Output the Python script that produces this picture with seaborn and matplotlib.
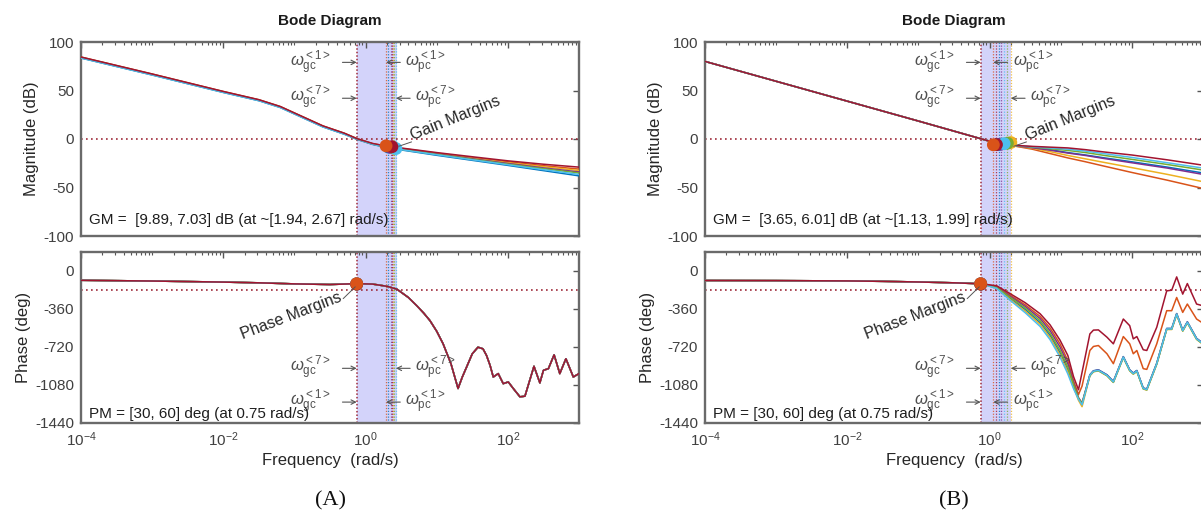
import matplotlib
matplotlib.use("Agg")
import matplotlib.pyplot as plt
from matplotlib.ticker import FixedLocator, NullFormatter, LogFormatterMathtext
import pandas as pd
import seaborn as sns

# ---------------- data ----------------
SERIES = ['1', '2', '3', '4', '5', '6', '7']
COLORS = {'1': '#0072BD', '2': '#D95319', '3': '#EDB120', '4': '#7E2F8E',
          '5': '#77AC30', '6': '#4DBEEE', '7': '#A2142F'}

# Panel A, magnitude (x: log10 of frequency in rad/s, y: dB)
A_MAG_LOGW = [-4, -3, -2, -1.5, -1.2, -0.9, -0.6, -0.3, -0.12, 0.1, 0.3, 0.44, 1.0, 1.5, 2.0, 2.5, 3.0]
A_MAG_1 = [83.5, 66, 48, 39.5, 32.5, 22.5, 12.5, 5, -0.4, -5.6, -8.9, -10.6, -16.8, -22, -27.2, -32.6, -38]
A_MAG_2 = [84.5, 67, 49, 40.5, 33.5, 23.5, 13.5, 6, 0.4, -4.8, -7.6, -9.0, -14.6, -19.2, -23.5, -27.5, -31]
A_MAG_3 = [84, 66.5, 48.5, 40, 33, 23, 13, 5.5, 0, -5.0, -8.0, -9.5, -15.0, -19.8, -24.5, -28.6, -32.5]
A_MAG_4 = [84, 66.5, 48.5, 40, 33, 23, 13, 5.5, 0, -5.2, -8.3, -9.9, -15.4, -20.4, -25.2, -29.8, -34]
A_MAG_5 = [84, 66.5, 48.5, 40, 33, 23, 13, 5.5, 0, -5.3, -8.5, -10.1, -15.8, -20.9, -25.9, -30.6, -35]
A_MAG_6 = [83.5, 66, 48, 39.5, 32.5, 22.5, 12.5, 5, -0.2, -5.4, -8.7, -10.3, -16.2, -21.4, -26.5, -31.6, -36.5]
A_MAG_7 = [84.5, 67, 49, 40.5, 33.5, 23.5, 13.5, 6, 0.3, -4.6, -7.4, -8.7, -14.0, -18.3, -22.5, -26, -29]

# Panel A, phase (deg) - the seven responses coincide
A_PH_LOGW = [-4, -3, -2, -1.5, -1, -0.5, -0.12, 0.1, 0.3, 0.44, 0.6, 0.72, 0.82, 0.905, 1.0, 1.09,
             1.2, 1.3, 1.36, 1.42, 1.5, 1.58, 1.65, 1.7, 1.75, 1.795, 1.865, 1.935, 2.006, 2.076,
             2.17, 2.24, 2.367, 2.45, 2.5, 2.57, 2.65, 2.73, 2.816, 2.92, 3.0]
A_PH = [-88, -95, -105, -112, -122, -128, -120, -124, -145, -172, -250, -329, -401, -470, -571, -690,
        -878, -1113, -1004, -910, -784, -722, -737, -800, -894, -1004, -972, -1067, -1051, -1113,
        -1192, -1186, -903, -1060, -941, -925, -794, -972, -831, -1004, -972]

# Panel B, magnitude
B_MAG_LOGW = [-4, -3, -2, -1, -0.11, 0.0, 0.15, 0.34, 0.6, 0.85, 1.1, 1.35, 1.6, 2.0, 2.5, 3.0]
B_MAG_1 = [80, 59.5, 39, 18.5, 0, -2.3, -4.5, -6.8, -8.8, -11, -14, -16.5, -19.3, -23.5, -29, -35]
B_MAG_2 = [80, 59.5, 39, 18.5, 0, -2.4, -4.7, -7.1, -10.5, -15, -19.5, -23.5, -27.8, -34.5, -42.5, -51]
B_MAG_3 = [80, 59.5, 39, 18.5, 0, -2.4, -4.6, -7.0, -9.5, -13, -17, -20.5, -24, -29.5, -36.5, -44]
B_MAG_4 = [80, 59.5, 39, 18.5, 0, -2.3, -4.5, -6.9, -9.0, -11.5, -14.5, -17, -20, -24.5, -30, -36.5]
B_MAG_5 = [80, 59.5, 39, 18.5, 0, -2.3, -4.4, -6.7, -8.3, -10, -11.8, -14, -16.8, -21, -26.3, -32]
B_MAG_6 = [80, 59.5, 39, 18.5, 0, -2.2, -4.3, -6.6, -8.0, -9.3, -10.5, -12.5, -15, -19, -24.5, -30]
B_MAG_7 = [80, 59.5, 39, 18.5, 0, -2.2, -4.3, -6.5, -7.6, -8.4, -9.2, -11, -13.3, -16.5, -21.5, -27]

# Panel B, phase
B_PH_LOGW = [-4, -3, -2, -1.5, -1, -0.5, -0.12, 0.1, 0.29, 0.5, 0.71, 0.85, 0.99, 1.1, 1.18, 1.25,
             1.3, 1.41, 1.46, 1.53, 1.65, 1.74, 1.88, 1.97, 2.02, 2.07, 2.16, 2.21, 2.35, 2.49,
             2.56, 2.63, 2.715, 2.78, 2.91, 3.0]
B_PH_1 = [-90, -91, -94, -98, -104, -112, -121, -160, -260, -365, -490, -610, -775, -935, -1090, -1210,
          -1262, -983, -945, -936, -983, -1046, -811, -936, -967, -942, -1108, -1118, -873, -544,
          -544, -403, -560, -481, -638, -685]
B_PH_2 = [-90, -91, -94, -98, -104, -112, -121, -148, -230, -320, -430, -540, -690, -850, -1040, -1170,
          -1090, -753, -715, -706, -784, -878, -621, -690, -784, -753, -925, -932, -690, -376,
          -376, -251, -392, -313, -455, -495]
B_PH_3 = [-90, -91, -94, -98, -104, -112, -121, -163, -270, -380, -505, -630, -795, -955, -1100, -1225,
          -1285, -993, -955, -946, -993, -1056, -821, -946, -977, -952, -1118, -1128, -883, -554,
          -554, -413, -570, -491, -648, -695]
B_PH_4 = [-90, -91, -94, -98, -104, -112, -121, -152, -240, -335, -450, -565, -720, -880, -1060, -1200,
          -1250, -985, -947, -938, -985, -1048, -813, -938, -969, -944, -1110, -1120, -875, -546,
          -546, -405, -562, -483, -640, -687]
B_PH_5 = [-90, -91, -94, -98, -104, -112, -121, -156, -250, -350, -470, -590, -750, -910, -1075, -1205,
          -1255, -991, -953, -944, -991, -1054, -819, -944, -975, -950, -1116, -1126, -881, -552,
          -552, -411, -568, -489, -646, -693]
B_PH_6 = [-90, -91, -94, -98, -104, -112, -121, -165, -278, -395, -525, -650, -815, -975, -1115, -1215,
          -1268, -988, -950, -941, -988, -1051, -816, -941, -972, -947, -1113, -1123, -878, -549,
          -549, -408, -565, -486, -643, -690]
B_PH_7 = [-90, -91, -94, -98, -104, -112, -121, -140, -215, -300, -405, -510, -655, -800, -1000, -1125,
          -960, -596, -560, -558, -627, -690, -455, -518, -643, -621, -746, -753, -533, -188,
          -182, -56, -219, -119, -313, -330]

# Stability margins (per series 1..7)
A_GM_W = [2.10, 1.94, 2.45, 2.25, 2.55, 2.67, 2.35]
A_GM_DB = [8.3, 7.03, 9.0, 8.6, 9.5, 9.89, 8.0]
B_GM_W = [1.35, 1.13, 1.99, 1.45, 1.78, 1.60, 1.25]
B_GM_DB = [5.6, 6.01, 3.65, 5.3, 4.3, 4.8, 5.8]
A_PM = [58, 60, 57, 59, 56, 58, 55]
B_PM = [58, 60, 57, 59, 56, 58, 55]
W_GC = 0.75
A_BAND = (0.75, 2.8)
B_BAND = (0.75, 2.0)
A_GM_TEXT = 'GM =  [9.89, 7.03] dB (at ~[1.94, 2.67] rad/s)'
B_GM_TEXT = 'GM =  [3.65, 6.01] dB (at ~[1.13, 1.99] rad/s)'
PM_TEXT = 'PM = [30, 60] deg (at 0.75 rad/s)'

# ---------------- style ----------------
sns.set_theme(style='white')
plt.rcParams['font.family'] = ['Liberation Sans', 'DejaVu Sans']
plt.rcParams['mathtext.fontset'] = 'custom'
plt.rcParams['mathtext.rm'] = 'Liberation Sans'
plt.rcParams['mathtext.it'] = 'Liberation Sans:italic'
plt.rcParams['mathtext.bf'] = 'Liberation Sans:bold'
plt.rcParams['axes.unicode_minus'] = False

REFRED = '#9e2a3a'
BANDC = '#d3d3fa'
DOT_ORDER = ['1', '3', '4', '5', '6', '7', '2']   # orange markers end up on top


def long_df(logw, arrays, col):
    rows = []
    for sid, vals in zip(SERIES, arrays):
        for lw, v in zip(logw, vals):
            rows.append((sid, 10.0 ** lw, v))
    return pd.DataFrame(rows, columns=['series', 'w', col])


def style_axes(ax, ylim, yticks):
    ax.set_xscale('log')
    ax.set_xlim(1e-4, 1e3)
    ax.set_ylim(*ylim)
    ax.set_yticks(yticks)
    ax.xaxis.set_major_locator(FixedLocator([1e-4, 1e-2, 1e0, 1e2]))
    minors = []
    for d in range(-4, 3):
        for m in range(1, 10):
            if m == 1 and d in (-4, -2, 0, 2):
                continue
            minors.append(m * 10.0 ** d)
    ax.xaxis.set_minor_locator(FixedLocator(minors))
    ax.xaxis.set_minor_formatter(NullFormatter())
    ax.xaxis.set_major_formatter(LogFormatterMathtext())
    ax.tick_params(which='both', direction='in', top=True, right=True,
                   color='#555555', labelcolor='#404040', labelsize=11)
    ax.tick_params(which='major', length=4, width=1.0, pad=5)
    ax.tick_params(which='minor', length=2.2, width=0.8)
    for s in ax.spines.values():
        s.set_color('#6a6a6a')
        s.set_linewidth(1.7)
        s.set_visible(True)
    ax.set_facecolor('white')


def omega(ax, kind, idx, y, head_w, side):
    lab = r'$\omega^{<%s>}_{\mathrm{%s}}$' % (idx, kind)
    if side == 'gc':
        tail = head_w * 10 ** -0.2
        tx, ha = head_w * 10 ** -0.36, 'right'
    else:
        tail = head_w * 10 ** 0.2
        tx, ha = head_w * 10 ** 0.27, 'left'
    ax.annotate('', xy=(head_w, y), xytext=(tail, y),
                arrowprops=dict(arrowstyle='->', color='#555555', lw=0.8,
                                shrinkA=0, shrinkB=0, mutation_scale=8), zorder=6)
    ax.text(tx, y, lab, ha=ha, va='center', fontsize=12, color='#505050', zorder=6)


def panel(x0, mags_logw, mags, ph_logw, phs, gm_w, gm_db, pm, band, gm_text, letter):
    axm = fig.add_axes([x0 / 1201, (516 - 236) / 516, 498 / 1201, 194 / 516])
    axp = fig.add_axes([x0 / 1201, (516 - 423) / 516, 498 / 1201, 171 / 516])
    for ax in (axm, axp):
        ax.set_xscale('log')
    dfm = long_df(mags_logw, mags, 'mag')
    dfp = long_df(ph_logw, phs, 'phase')
    pc_min, pc_max = min(gm_w), max(gm_w)

    for ax in (axm, axp):
        ax.axvspan(band[0], band[1], color=BANDC, lw=0, zorder=0)
        ax.axvline(W_GC, color=REFRED, ls=(0, (1, 1.3)), lw=1.1, zorder=1)
        for sid, w in zip(SERIES, gm_w):
            ax.axvline(w, color=COLORS[sid], ls=(0, (1, 1.3)), lw=0.9, zorder=1, alpha=0.8)
    axm.axhline(0, color=REFRED, ls=(0, (1, 2)), lw=1.2, zorder=1)
    axp.axhline(-180, color=REFRED, ls=(0, (1, 2)), lw=1.2, zorder=1)

    sns.lineplot(data=dfm, x='w', y='mag', hue='series', hue_order=SERIES, palette=COLORS,
                 estimator=None, sort=False, legend=False, ax=axm, lw=1.1, zorder=3)
    sns.lineplot(data=dfp, x='w', y='phase', hue='series', hue_order=SERIES, palette=COLORS,
                 estimator=None, sort=False, legend=False, ax=axp, lw=1.1, zorder=3)

    # margin markers (rows ordered so that the orange marker is drawn last)
    idx = [SERIES.index(s) for s in DOT_ORDER]
    gm_df = pd.DataFrame({'series': DOT_ORDER, 'w': [gm_w[i] for i in idx],
                          'mag': [-gm_db[i] for i in idx]})
    sns.scatterplot(data=gm_df, x='w', y='mag', hue='series', palette=COLORS, s=85,
                    linewidth=0, legend=False, ax=axm, zorder=5)
    pm_df = pd.DataFrame({'series': DOT_ORDER, 'w': [W_GC] * 7,
                          'phase': [-180 + pm[i] for i in idx]})
    sns.scatterplot(data=pm_df, x='w', y='phase', hue='series', palette=COLORS, s=85,
                    linewidth=0, legend=False, ax=axp, zorder=5)

    style_axes(axm, (-100, 100), [-100, -50, 0, 50, 100])
    style_axes(axp, (-1440, 180), [-1440, -1080, -720, -360, 0])
    axm.tick_params(labelbottom=False)

    axm.set_xlabel('')
    axm.set_ylabel('Magnitude (dB)', fontsize=12, color='#262626', labelpad=3)
    axp.set_ylabel('Phase (deg)', fontsize=12, color='#262626', labelpad=3)
    axp.set_xlabel('Frequency  (rad/s)', fontsize=12, color='#262626', labelpad=3)
    axm.set_title('Bode Diagram', fontsize=11, fontweight='bold', color='#1a1a1a', pad=12)

    # omega crossover labels
    omega(axm, 'gc', 1, 79, W_GC, 'gc')
    omega(axm, 'gc', 7, 42, W_GC, 'gc')
    omega(axm, 'pc', 1, 79, pc_min, 'pc')
    omega(axm, 'pc', 7, 42, pc_max, 'pc')
    omega(axp, 'gc', 7, -922, W_GC, 'gc')
    omega(axp, 'gc', 1, -1242, W_GC, 'gc')
    omega(axp, 'pc', 7, -922, pc_max, 'pc')
    omega(axp, 'pc', 1, -1242, pc_min, 'pc')

    # margin captions
    axm.text(pc_max * 10 ** 0.245, -1.5, 'Gain Margins', rotation=22, rotation_mode='anchor',
             ha='left', va='baseline', fontsize=11.5, color='#262626', zorder=6)
    axm.plot([pc_max * 10 ** 0.22, pc_max * 10 ** 0.04], [-3, -7.5], color='#555555', lw=0.7, zorder=6)
    axp.text(W_GC * 10 ** -0.2, -280, 'Phase Margins', rotation=21, rotation_mode='anchor',
             ha='right', va='baseline', fontsize=11.5, color='#262626', zorder=6)
    axp.plot([W_GC * 10 ** -0.19, W_GC * 10 ** -0.02], [-262, -150], color='#555555', lw=0.7, zorder=6)

    axm.text(0.016, 0.082, gm_text, transform=axm.transAxes, ha='left', va='center',
             fontsize=11, color='#1e1e1e', zorder=6)
    axp.text(0.016, 0.05, PM_TEXT, transform=axp.transAxes, ha='left', va='center',
             fontsize=11, color='#1e1e1e', zorder=6)

    fig.text((x0 + 249) / 1201, 1 - 501 / 516, letter, ha='center', va='center',
             fontsize=16, family='Liberation Serif', color='#111111')


fig = plt.figure(figsize=(12.01, 5.16), dpi=100)
fig.patch.set_facecolor('white')

panel(81, A_MAG_LOGW, [A_MAG_1, A_MAG_2, A_MAG_3, A_MAG_4, A_MAG_5, A_MAG_6, A_MAG_7],
      A_PH_LOGW, [A_PH] * 7, A_GM_W, A_GM_DB, A_PM, A_BAND, A_GM_TEXT, '(A)')
panel(705, B_MAG_LOGW, [B_MAG_1, B_MAG_2, B_MAG_3, B_MAG_4, B_MAG_5, B_MAG_6, B_MAG_7],
      B_PH_LOGW, [B_PH_1, B_PH_2, B_PH_3, B_PH_4, B_PH_5, B_PH_6, B_PH_7],
      B_GM_W, B_GM_DB, B_PM, B_BAND, B_GM_TEXT, '(B)')

fig.savefig('out.png', dpi=100, facecolor='white')
